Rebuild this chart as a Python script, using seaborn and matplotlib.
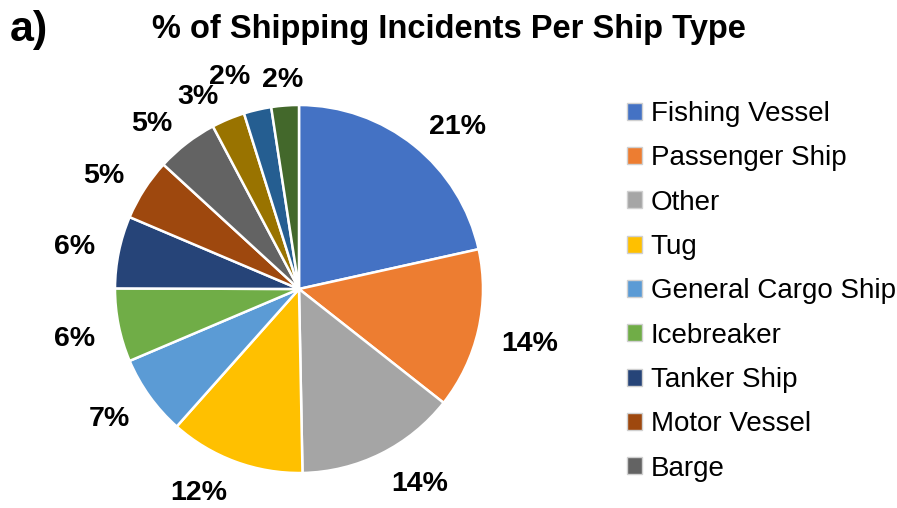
import numpy as np
import matplotlib
matplotlib.use("Agg")
import matplotlib.pyplot as plt
from matplotlib.patches import Patch
import seaborn as sns

# Share of shipping incidents (%) per ship type, clockwise from 12 o'clock
ship_types = [
    "Fishing Vessel", "Passenger Ship", "Other", "Tug",
    "General Cargo Ship", "Icebreaker", "Tanker Ship", "Motor Vessel", "Barge",
]
shares = [21.4, 14.0, 14.0, 11.8, 7.0, 6.4, 6.3, 5.4, 5.4]
# three smallest slices that follow Barge (not listed in the key)
minor_shares = [2.9, 2.4, 2.4]

slice_colors = [
    "#4472C4", "#ED7D31", "#A5A5A5", "#FFC000", "#5B9BD5", "#70AD47",
    "#264478", "#9E480E", "#636363", "#997300", "#255E91", "#43682B",
]

sns.set_theme(style="white")
plt.rcParams["font.family"] = ["Liberation Sans", "DejaVu Sans"]
plt.rcParams["text.color"] = "black"

W, H = 897, 508
fig = plt.figure(figsize=(W / 100, H / 100), dpi=100)
fig.patch.set_facecolor("white")

# pie axes: centre (299, 289) px, radius 184 px
cx, cy, r = 299, 289, 184
ax = fig.add_axes([(cx - r) / W, (H - cy - r) / H, 2 * r / W, 2 * r / H])

values = shares + minor_shares
palette = sns.color_palette(slice_colors)
wedges, texts = ax.pie(
    values,
    labels=[f"{v:.0f}%" for v in values],
    colors=palette,
    startangle=90,
    counterclock=False,
    labeldistance=1.13,
    radius=1.0,
    wedgeprops=dict(edgecolor="white", linewidth=1.8),
    textprops=dict(fontsize=20.5, fontweight="bold", color="black"),
)

# the crowded labels of the thin slices near the top sit a little further out;
# labels under the horizontal diameter hang slightly lower
label_dist = [1.13] * len(shares) + [1.13, 1.18, 1.14]
for w, t, d in zip(wedges, texts, label_dist):
    ang = np.deg2rad((w.theta1 + w.theta2) / 2)
    x, y = d * np.cos(ang), d * np.sin(ang)
    if y < 0:
        y -= 0.05
    t.set_position((x, y))
    if abs(x) < 0.12:
        t.set_horizontalalignment("center")

ax.set_xlim(-1, 1)
ax.set_ylim(-1, 1)
ax.set_aspect("equal")
ax.axis("off")

fig.text(0.5, 1 - 38 / H, "% of Shipping Incidents Per Ship Type",
         ha="center", va="baseline", fontsize=23.5, fontweight="bold",
         color="black")
fig.text(10 / W, 1 - 41 / H, "a)", ha="left", va="baseline",
         fontsize=31, fontweight="bold", color="black")

handles = [Patch(facecolor=palette[i], edgecolor="#d0d0d0", linewidth=1.0)
           for i in range(len(ship_types))]
leg = fig.legend(
    handles, ship_types,
    loc="upper left", bbox_to_anchor=(627 / W, 1 - 101 / H),
    frameon=False, fontsize=20, handlelength=0.55, handleheight=0.55,
    handletextpad=0.3, labelspacing=0.66, borderpad=0, borderaxespad=0,
)
for txt in leg.get_texts():
    txt.set_color("black")

fig.savefig("out.png", dpi=100, facecolor="white")
